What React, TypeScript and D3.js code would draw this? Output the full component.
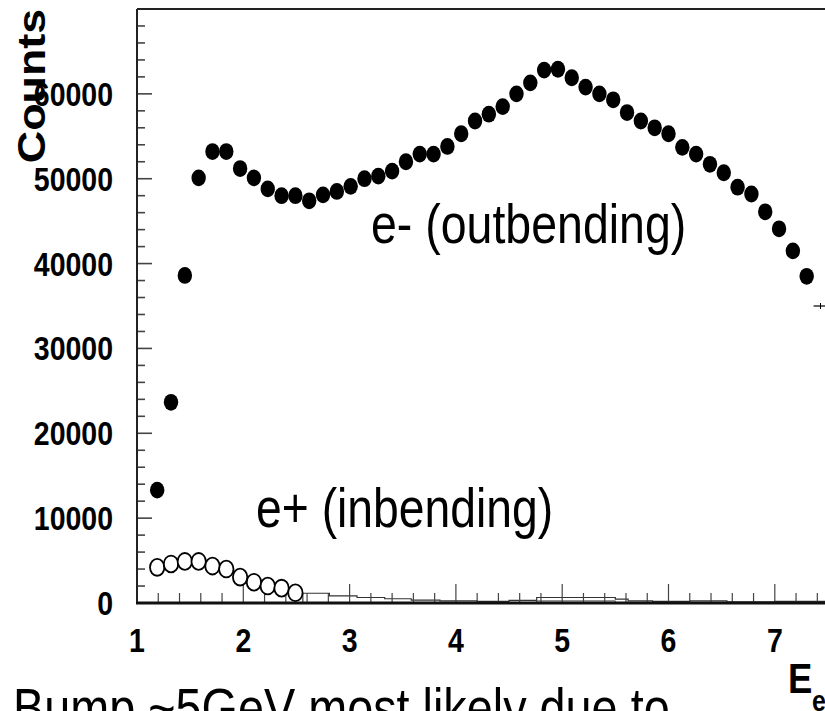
import React from "react";
import * as d3 from "d3";

// ---------- data ----------
const binCenters = [1.19, 1.32, 1.45, 1.58, 1.71, 1.84, 1.97, 2.10, 2.23, 2.36, 2.49, 2.62, 2.75, 2.88, 3.01, 3.14, 3.27, 3.40, 3.53, 3.66, 3.79, 3.92, 4.05, 4.18, 4.31, 4.44, 4.57, 4.70, 4.83, 4.96, 5.09, 5.22, 5.35, 5.48, 5.61, 5.74, 5.87, 6.00, 6.13, 6.26, 6.39, 6.52, 6.65, 6.78, 6.91, 7.04, 7.17, 7.30];
const eMinusCounts = [13300, 23650, 38600, 50100, 53200, 53200, 51200, 50100, 48800, 48000, 48000, 47400, 48100, 48500, 49100, 50000, 50300, 50900, 52000, 52900, 52900, 53800, 55300, 56800, 57600, 58500, 60000, 61300, 62800, 62900, 61900, 60800, 60000, 59300, 57800, 56800, 56000, 55300, 53700, 52900, 51700, 50700, 49000, 48200, 46100, 44100, 41500, 38500];
const lastPointX = 7.43;
const lastPointY = 35000;
const ePlusCenters = [1.19, 1.32, 1.45, 1.58, 1.71, 1.84, 1.97, 2.10, 2.23, 2.36, 2.49];
const ePlusCounts = [4200, 4600, 4900, 4900, 4350, 4000, 3050, 2450, 2000, 1750, 1200];
// thin histogram tail near zero (bin edges and contents)
const tailEdges = [2.56, 2.81, 3.07, 3.33, 3.58, 3.85, 4.2, 4.5, 4.76, 5.5, 5.62, 5.85, 6.2, 6.55, 7.0, 7.5];
const tailCounts = [1150, 850, 650, 500, 350, 250, 200, 300, 650, 450, 250, 200, 250, 150, 200];
const tail2Edges = [4.76, 5.5];
const tail2Counts = [250];

const xTickValues = [1, 2, 3, 4, 5, 6, 7];
const xTickLabels = ["1", "2", "3", "4", "5", "6", "7"];
const yTickValues = [0, 10000, 20000, 30000, 40000, 50000, 60000];
const yTickLabels = ["0", "10000", "20000", "30000", "40000", "50000", "60000"];

// ---------- layout ----------
const W = 825;
const H = 711;
const left = 137;
const top = 9;
const bottom = 603;
const SY = 1.18;
const FONT = "'Liberation Sans', Arial, Helvetica, sans-serif";

export default function App() {
  const x = d3.scaleLinear().domain([1, 7.5]).range([left, left + 6.5 * 106.3]);
  const y = d3.scaleLinear().domain([0, 70000]).range([bottom, top]);

  const xMinor = d3.range(1, 7.61, 0.2).map((v) => +v.toFixed(2));
  const yMinor = d3.range(0, 70000, 2000);

  const tailPath = (edges: number[], counts: number[]) => {
    let p = "";
    counts.forEach((c, i) => {
      const x0 = x(edges[i]);
      const x1 = x(edges[i + 1]);
      const yy = y(c);
      p += (i === 0 ? `M${x0},${y(0)}L${x0},${yy}` : `L${x0},${yy}`) + `L${x1},${yy}`;
    });
    p += `L${x(edges[edges.length - 1])},${y(0)}`;
    return p;
  };

  return (
    <svg
      width={W}
      height={H}
      style={{ position: "absolute", left: 0, top: 0, background: "#fff" }}
      fontFamily={FONT}
    >
      <rect x={0} y={0} width={W} height={H} fill="#fff" />

      {/* tail histograms */}
      <path d={tailPath(tailEdges, tailCounts)} fill="none" stroke="#333" strokeWidth={1.2} />
      <path d={tailPath(tail2Edges, tail2Counts)} fill="none" stroke="#555" strokeWidth={1} />

      {/* y ticks */}
      {yMinor.map((v) => (
        <line key={"ym" + v} x1={left} x2={left + (v % 10000 === 0 ? 15 : 8)} y1={y(v)} y2={y(v)} stroke="#444" strokeWidth={1.6} />
      ))}
      {/* x ticks */}
      {xMinor.map((v) => (
        <line key={"xm" + v} x1={x(v)} x2={x(v)} y1={bottom} y2={bottom - (Math.abs(v - Math.round(v)) < 0.01 ? 19 : 10)} stroke="#444" strokeWidth={1.2} />
      ))}

      {/* frame */}
      <line x1={left} x2={W + 5} y1={top} y2={top} stroke="#222" strokeWidth={2} />
      <line x1={left} x2={left} y1={top} y2={bottom} stroke="#222" strokeWidth={2} />
      <line x1={left - 1} x2={W + 5} y1={bottom} y2={bottom} stroke="#111" strokeWidth={3} />

      {/* e+ open circles */}
      {ePlusCenters.map((c, i) => (
        <ellipse key={"ep" + i} cx={x(c)} cy={y(ePlusCounts[i])} rx={7.2} ry={8.4} fill="#fff" stroke="#000" strokeWidth={1.8} />
      ))}

      {/* e- filled circles */}
      {binCenters.map((c, i) => (
        <ellipse key={"em" + i} cx={x(c)} cy={y(eMinusCounts[i])} rx={7.2} ry={8.4} fill="#000" />
      ))}
      {/* last point, no marker */}
      <line x1={x(lastPointX - 0.065)} x2={x(lastPointX + 0.065)} y1={y(lastPointY)} y2={y(lastPointY)} stroke="#000" strokeWidth={1.2} />
      <line x1={x(lastPointX)} x2={x(lastPointX)} y1={y(lastPointY) - 3} y2={y(lastPointY) + 3} stroke="#000" strokeWidth={1} />

      {/* y tick labels */}
      {yTickValues.map((v, i) => (
        <text key={"yl" + v} transform={`translate(113,${y(v) + 12}) scale(1,${SY})`} textAnchor="end" fontSize={28.5} fontWeight="bold" fill="#000">
          {yTickLabels[i]}
        </text>
      ))}
      {/* x tick labels */}
      {xTickValues.map((v, i) => (
        <text key={"xl" + v} transform={`translate(${x(v)},652) scale(1,${SY})`} textAnchor="middle" fontSize={28.5} fontWeight="bold" fill="#000">
          {xTickLabels[i]}
        </text>
      ))}

      {/* axis titles */}
      <text transform={`translate(45,86) scale(1,${SY}) rotate(-90)`} textAnchor="middle" fontSize={38} fontWeight="bold" fill="#000">
        Counts
      </text>
      <text transform={`translate(788,693) scale(1,${SY})`} fontSize={36.5} fontWeight="bold" fill="#000">E</text>
      <text transform={`translate(812,711) scale(1,${SY})`} fontSize={25} fontWeight="bold" fill="#000">e</text>

      {/* annotations */}
      <text transform={`translate(371,243) scale(1,${SY})`} fontSize={46.5} fill="#000">e- (outbending)</text>
      <text transform={`translate(256,527) scale(1,${SY})`} fontSize={46.3} fill="#000">e+ (inbending)</text>
      <text transform={`translate(13,727) scale(1,${SY})`} fontSize={46.8} fill="#000">Bump ~5GeV most likely due to</text>
    </svg>
  );
}
